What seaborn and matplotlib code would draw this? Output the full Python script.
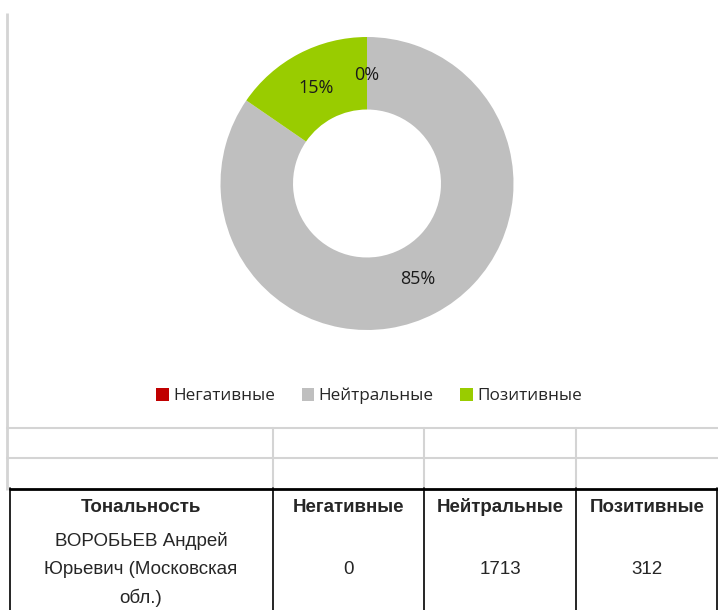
import matplotlib
matplotlib.use("Agg")
import matplotlib.pyplot as plt
from matplotlib import font_manager
import numpy as np
import seaborn as sns

# Sentiment counts for the candidate
categories = ["Негативные", "Нейтральные", "Позитивные"]
counts = [0, 1713, 312]
colors = ["#C00000", "#BFBFBF", "#99CC00"]
row_header = "Тональность"
row_label = "ВОРОБЬЕВ Андрей\nЮрьевич (Московская\nобл.)"

sns.set_theme(style="white")
names = {f.name for f in font_manager.fontManager.ttflist}
narrow = "Liberation Sans Narrow" if "Liberation Sans Narrow" in names else "Liberation Sans"
plt.rcParams["font.family"] = ["Open Sans", "DejaVu Sans"]

W, H = 718, 610
fig = plt.figure(figsize=(W / 100, H / 100), dpi=100)
fig.patch.set_facecolor("white")

# Pixel-space overlay for the sheet grid and table
bg = fig.add_axes([0, 0, 1, 1])
bg.set_xlim(0, W)
bg.set_ylim(H, 0)
bg.axis("off")

grid_c = "#D4D4D4"
bg.plot([7, 7], [13, 490], color=grid_c, lw=2, solid_capstyle="butt")
for y in (428, 458):
    bg.plot([7, W], [y, y], color=grid_c, lw=1.5)
for x in (273, 424, 576):
    bg.plot([x, x], [428, 488], color=grid_c, lw=1.5)

# Table borders
bg.plot([10, W], [488.5, 488.5], color="black", lw=2)
for x in (10, 273, 424, 576, 717):
    bg.plot([x, x], [488, H], color="black", lw=1.2)

fs_tab = 13.5
col_centers = [141, 348, 500, 647]
bg.text(col_centers[0], 507, row_header, ha="center", va="center",
        fontsize=fs_tab, fontweight="bold", family=narrow)
for cx, name, val in zip(col_centers[1:], categories, counts):
    bg.text(cx, 507, name, ha="center", va="center",
            fontsize=fs_tab, fontweight="bold", family=narrow)
    bg.text(cx, 569, str(val), ha="center", va="center",
            fontsize=fs_tab, family=narrow)
for i, line in enumerate(row_label.split("\n")):
    bg.text(col_centers[0], 541 + i * 28.5, line, ha="center", va="center",
            fontsize=fs_tab, family=narrow)

# Donut chart
cx, cy, r = 367, 183.5, 146.5
ax = fig.add_axes([(cx - r) / W, (H - cy - r) / H, 2 * r / W, 2 * r / H])
total = sum(counts)
wedges, _ = ax.pie(counts, colors=colors, startangle=90, counterclock=False,
                   radius=1, wedgeprops=dict(width=0.495, edgecolor="none"))
start = 90.0
for v in counts:
    frac = v / total
    mid = np.deg2rad(start - frac * 360 / 2)
    rr = 0.74
    ax.text(rr * np.cos(mid), rr * np.sin(mid), f"{round(frac * 100):.0f}%",
            ha="center", va="center", fontsize=13, color="#1a1a1a")
    start -= frac * 360
ax.set_xlim(-1, 1)
ax.set_ylim(-1, 1)
ax.set_aspect("equal")
ax.axis("off")

fig.legend(wedges, categories, loc="center", bbox_to_anchor=(369 / W, 1 - 396 / H),
           ncol=3, frameon=False, fontsize=12.3, handlelength=0.75, handleheight=0.75,
           handletextpad=0.25, columnspacing=1.55)

fig.savefig("out.png", dpi=100, facecolor="white")
